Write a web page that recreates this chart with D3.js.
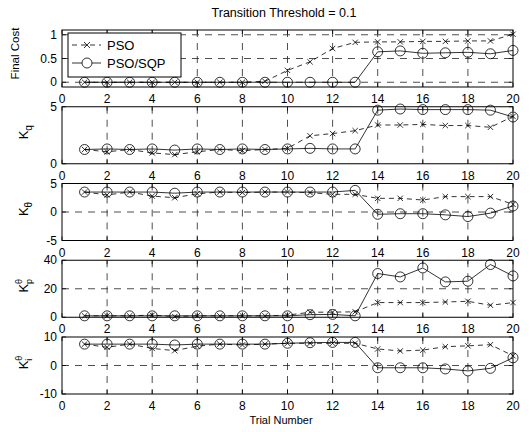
<!DOCTYPE html>
<html>
<head>
<meta charset="utf-8">
<script src="https://cdn.jsdelivr.net/npm/d3@7"></script>
<style>
  body { margin: 0; background: #fff; }
  text { font-family: "Liberation Sans", Arial, sans-serif; fill: #000; }
  .grid { stroke: #222; stroke-width: 0.8; stroke-dasharray: 7,6; fill: none; }
  .box { stroke: #000; stroke-width: 1; fill: none; }
  .pso { stroke: #000; stroke-width: 0.8; stroke-dasharray: 5,4; fill: none; }
  .sqp { stroke: #000; stroke-width: 0.8; fill: none; }
</style>
</head>
<body>
<div id="chart"></div>
<script>

var trials = [1, 2, 3, 4, 5, 6, 7, 8, 9, 10, 11, 12, 13, 14, 15, 16, 17, 18, 19, 20];
var xTicks = [0, 2, 4, 6, 8, 10, 12, 14, 16, 18, 20];

var costPSO = [0, 0, 0, 0, 0, 0, 0, 0, 0.02, 0.25, 0.43, 0.71, 0.84, 0.85, 0.85, 0.86, 0.86, 0.87, 0.87, 1.01];
var costSQP = [0, 0, 0, 0, 0, 0, 0, 0, 0, 0, 0, 0, 0, 0.64, 0.66, 0.61, 0.62, 0.63, 0.6, 0.67];

var kqPSO = [1.25, 1.05, 1.25, 0.95, 0.8, 1.05, 1.25, 1.15, 1.25, 1.35, 2.45, 2.65, 2.9, 3.4, 3.4, 3.45, 3.35, 3.35, 3.2, 4.15];
var kqSQP = [1.25, 1.3, 1.25, 1.3, 1.2, 1.3, 1.25, 1.3, 1.25, 1.3, 1.35, 1.3, 1.3, 4.7, 4.8, 4.75, 4.75, 4.75, 4.7, 4.1];

var kthPSO = [3.5, 3.0, 3.5, 2.8, 2.5, 3.2, 3.5, 3.4, 3.5, 3.5, 3.4, 3.1, 3.1, 2.4, 2.4, 2.1, 2.7, 2.7, 2.7, 1.35];
var kthSQP = [3.5, 3.5, 3.5, 3.5, 3.3, 3.5, 3.5, 3.5, 3.5, 3.5, 3.5, 3.5, 3.8, -0.4, -0.3, -0.3, -0.5, -0.8, -0.2, 1.05];

var kpPSO = [1, 1, 1, 1.5, 0.5, 1, 1, 1, 1, 1.5, 3.5, 3.6, 3.8, 10.3, 10.3, 10.3, 10.7, 11.2, 8.4, 10.3];
var kpSQP = [1, 1, 1, 1, 1, 1, 1, 1, 1, 1, 1.8, 2, 1, 30.7, 28.3, 34.6, 24.8, 25.3, 37, 29];

var kiPSO = [7.5, 6.4, 7.5, 6.0, 5.2, 6.8, 7.5, 7.2, 7.5, 7.8, 7.8, 7.8, 7.8, 5.8, 5.1, 5.4, 6.6, 6.9, 7.3, 3.4];
var kiSQP = [7.5, 7.5, 7.5, 7.5, 7.2, 7.5, 7.5, 7.5, 7.5, 7.8, 8.0, 8.1, 8.1, -0.8, -0.8, -0.8, -1.2, -1.9, -1.0, 2.7];

var costTicks = [0, 0.5, 1], kqTicks = [0, 5], kthTicks = [-5, 0, 5], kpTicks = [0, 20, 40], kiTicks = [-10, 0, 10];

var width = 530, height = 432;
var left = 62, right = 513, panelH = 57, firstTop = 30, step = 76.75;

var svg = d3.select("#chart").append("svg")
    .attr("width", width)
    .attr("height", height);

var x = d3.scaleLinear().domain([0, 20]).range([left, right]);

var panels = [
  {pso: costPSO, sqp: costSQP, domain: [-0.1, 1.1], ticks: costTicks, label: "cost"},
  {pso: kqPSO, sqp: kqSQP, domain: [0, 5], ticks: kqTicks, label: "kq"},
  {pso: kthPSO, sqp: kthSQP, domain: [-5, 5], ticks: kthTicks, label: "kth"},
  {pso: kpPSO, sqp: kpSQP, domain: [0, 40], ticks: kpTicks, label: "kp"},
  {pso: kiPSO, sqp: kiSQP, domain: [-10, 10], ticks: kiTicks, label: "ki"}
];

panels.forEach(function(p, i){
  var top = firstTop + i * step, bottom = top + panelH;
  var y = d3.scaleLinear().domain(p.domain).range([bottom, top]);
  var g = svg.append("g").attr("class", "panel");

  // grid lines
  g.selectAll("line.vgrid")
    .data(xTicks.filter(function(d){ return d > 0 && d < 20; }))
    .enter().append("line")
      .attr("class", "grid")
      .attr("x1", x).attr("x2", x)
      .attr("y1", top).attr("y2", bottom);
  g.selectAll("line.hgrid")
    .data(p.ticks.filter(function(d){ return d > p.domain[0] && d < p.domain[1]; }))
    .enter().append("line")
      .attr("class", "grid")
      .attr("x1", left).attr("x2", right)
      .attr("y1", y).attr("y2", y);

  // box
  g.append("rect")
    .attr("class", "box")
    .attr("x", left).attr("y", top)
    .attr("width", right - left).attr("height", panelH);

  // inward ticks
  var tl = 4;
  xTicks.forEach(function(t){
    g.append("line").attr("class", "sqp").attr("x1", x(t)).attr("x2", x(t)).attr("y1", bottom).attr("y2", bottom - tl);
    g.append("line").attr("class", "sqp").attr("x1", x(t)).attr("x2", x(t)).attr("y1", top).attr("y2", top + tl);
  });
  p.ticks.forEach(function(t){
    g.append("line").attr("class", "sqp").attr("x1", left).attr("x2", left + tl).attr("y1", y(t)).attr("y2", y(t));
    g.append("line").attr("class", "sqp").attr("x1", right).attr("x2", right - tl).attr("y1", y(t)).attr("y2", y(t));
  });

  // tick labels
  g.selectAll("text.xt")
    .data(xTicks)
    .enter().append("text")
      .attr("x", x)
      .attr("y", bottom + 16)
      .attr("text-anchor", "middle")
      .attr("font-size", 12)
      .text(function(d){ return d; });
  g.selectAll("text.yt")
    .data(p.ticks)
    .enter().append("text")
      .attr("x", left - 5)
      .attr("y", function(d){ return y(d) + 4; })
      .attr("text-anchor", "end")
      .attr("font-size", 12)
      .text(function(d){ return d; });

  // series
  var line = d3.line()
    .x(function(d, j){ return x(trials[j]); })
    .y(function(d){ return y(d); });

  g.append("path").datum(p.pso).attr("class", "pso").attr("d", line);
  g.append("path").datum(p.sqp).attr("class", "sqp").attr("d", line);

  g.selectAll("circle.m")
    .data(p.sqp)
    .enter().append("circle")
      .attr("cx", function(d, j){ return x(trials[j]); })
      .attr("cy", y)
      .attr("r", 5)
      .attr("fill", "none")
      .attr("stroke", "#000")
      .attr("stroke-width", 0.8);

  var s = 2.7;
  g.selectAll("path.xm")
    .data(p.pso)
    .enter().append("path")
      .attr("class", "sqp")
      .attr("d", function(d, j){
        var cx = x(trials[j]), cy = y(d);
        return "M" + (cx - s) + "," + (cy - s) + "L" + (cx + s) + "," + (cy + s) +
               "M" + (cx - s) + "," + (cy + s) + "L" + (cx + s) + "," + (cy - s);
      });

  // y label
  var cy = top + panelH / 2;
  if (p.label == "cost") {
    svg.append("text")
      .attr("transform", "translate(19," + (cy - 5) + ") rotate(-90)")
      .attr("text-anchor", "middle")
      .attr("font-size", 11.5)
      .text("Final Cost");
  } else {
    var lt = svg.append("text")
      .attr("transform", "translate(28," + (cy - 3) + ") rotate(-90)")
      .attr("text-anchor", "middle")
      .attr("font-size", 13);
    lt.append("tspan").text("K");
    if (p.label == "kq") {
      lt.append("tspan").attr("font-size", 10).attr("dy", 4).text("q");
    } else if (p.label == "kth") {
      lt.append("tspan").attr("font-size", 10).attr("dy", 4).text("θ");
    } else {
      lt.append("tspan").attr("font-size", 9).attr("dy", -6).text("θ");
      lt.append("tspan").attr("font-size", 9).attr("dx", -5).attr("dy", 10).text(p.label == "kp" ? "p" : "i");
    }
  }
});

// legend
var lg = svg.append("g").attr("class", "legend");
lg.append("rect")
  .attr("x", 68).attr("y", 33)
  .attr("width", 113).attr("height", 44)
  .attr("fill", "#fff").attr("stroke", "#000").attr("stroke-width", 1);
lg.append("line").attr("class", "pso").attr("x1", 72).attr("x2", 101).attr("y1", 45).attr("y2", 45);
lg.append("path").attr("class", "sqp").attr("d", "M84,42L90,48M84,48L90,42");
lg.append("text").attr("x", 107).attr("y", 50).attr("font-size", 13).text("PSO");
lg.append("line").attr("class", "sqp").attr("x1", 72).attr("x2", 101).attr("y1", 63).attr("y2", 63);
lg.append("circle").attr("cx", 87).attr("cy", 63).attr("r", 5).attr("fill", "#fff").attr("stroke", "#000").attr("stroke-width", 0.8);
lg.append("text").attr("x", 107).attr("y", 68).attr("font-size", 13).text("PSO/SQP");

// title and x label
svg.append("text")
  .attr("x", 284).attr("y", 17)
  .attr("text-anchor", "middle")
  .attr("font-size", 12.5)
  .text("Transition Threshold = 0.1");
svg.append("text")
  .attr("x", 281).attr("y", 424)
  .attr("text-anchor", "middle")
  .attr("font-size", 11)
  .text("Trial Number");

</script>
</body>
</html>
